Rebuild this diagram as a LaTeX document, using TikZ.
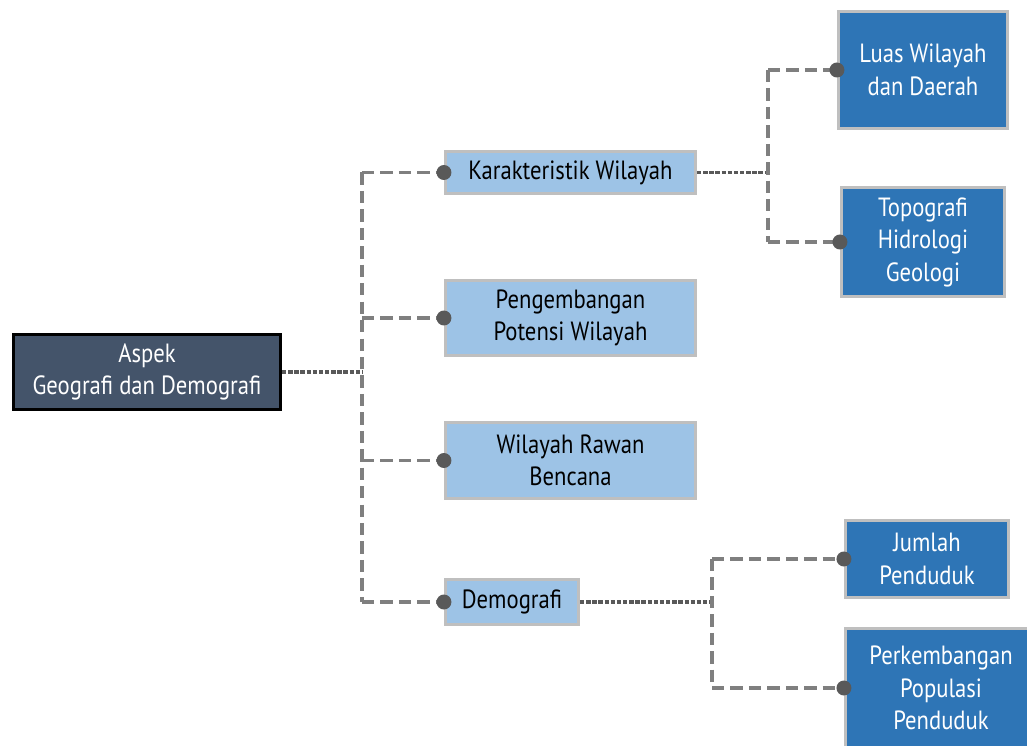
\documentclass[tikz,border=0pt]{standalone}
\usepackage{fontspec}
\setmainfont{PT Sans}[FakeStretch=0.86]
\usetikzlibrary{arrows.meta}

\definecolor{slate}{HTML}{44546A}
\definecolor{paleblue}{HTML}{9DC3E6}
\definecolor{deepblue}{HTML}{2E75B6}
\definecolor{rimgray}{HTML}{BFBFBF}
\definecolor{linkgray}{HTML}{7F7F7F}
\definecolor{dotgray}{HTML}{595959}

\tikzset{
  stub/.style={draw=dotgray,line width=1.8pt,dash pattern=on 2.5pt off 1pt},
  trunk/.style={draw=linkgray,line width=1.8pt,dash pattern=on 7pt off 3.5pt},
  twig/.style={trunk,-{Circle[length=8.5pt,color=dotgray]},shorten >=-4.2pt}
}

\begin{document}
\begin{tikzpicture}[x=0.02cm,y=-0.02cm]

      \useasboundingbox (0,0) rectangle (1027,746);

      \begin{scope}[every node/.style={draw=rimgray,line width=1.7pt,align=center,inner sep=0pt,
          font=\fontsize{15}{18.5}\selectfont}]
        \node[fill=slate,draw=black,text=white,minimum width=5.34cm,minimum height=1.5cm]
          (aspek) at (147,372) {Aspek\\Geografi dan Demografi};
        \node[fill=paleblue,minimum width=5cm,minimum height=0.84cm] (kw) at (570.5,172.5) {Karakteristik Wilayah};
        \node[fill=paleblue,minimum width=5cm,minimum height=1.5cm] (pw) at (570.5,318) {Pengembangan\\Potensi Wilayah};
        \node[fill=paleblue,minimum width=5cm,minimum height=1.52cm] (wr) at (570.5,460.5) {Wilayah Rawan\\Bencana};
        \node[fill=paleblue,minimum width=2.66cm,minimum height=0.9cm] (dm) at (512,602) {Demografi};
        \node[fill=deepblue,text=white,minimum width=3.38cm,minimum height=2.34cm] (lw) at (923,70) {Luas Wilayah\\dan Daerah};
        \node[fill=deepblue,text=white,minimum width=3.26cm,minimum height=2.18cm] (th) at (923,242) {Topografi\\Hidrologi\\Geologi};
        \node[fill=deepblue,text=white,minimum width=3.26cm,minimum height=1.54cm] (jp) at (927,559) {Jumlah\\Penduduk};
        \node[fill=deepblue,text=white,minimum width=3.82cm,minimum height=2.38cm] (pp) at (941,688) {Perkembangan\\Populasi\\Penduduk};
      \end{scope}

      % junctions
      \coordinate (j1) at (362,372);
      \coordinate (b1) at (362,172.5);
      \coordinate (b2) at (362,318);
      \coordinate (b3) at (362,460.5);
      \coordinate (b4) at (362,602);
      \coordinate (j2) at (768,172.5);
      \coordinate (c1) at (768,70);
      \coordinate (c2) at (768,242);
      \coordinate (j3) at (712,602);
      \coordinate (d1) at (712,559);
      \coordinate (d2) at (712,688);

      % parent to junction
      \draw[stub] (aspek) -- (j1);
      \draw[stub] (kw) -- (j2);
      \draw[stub] (dm) -- (j3);

      % vertical runs
      \draw[trunk] (b1) -- (b4);
      \draw[trunk] (c1) -- (c2);
      \draw[trunk] (d1) -- (d2);

      % branches to children
      \draw[twig] (b1) -- (kw);
      \draw[twig] (b2) -- (pw);
      \draw[twig] (b3) -- (wr);
      \draw[twig] (b4) -- (dm);
      \draw[twig] (c1) -- (lw);
      \draw[twig] (c2) -- (th);
      \draw[twig] (d1) -- (jp);
      \draw[twig] (d2) -- (pp);

    \end{tikzpicture}
\end{document}
